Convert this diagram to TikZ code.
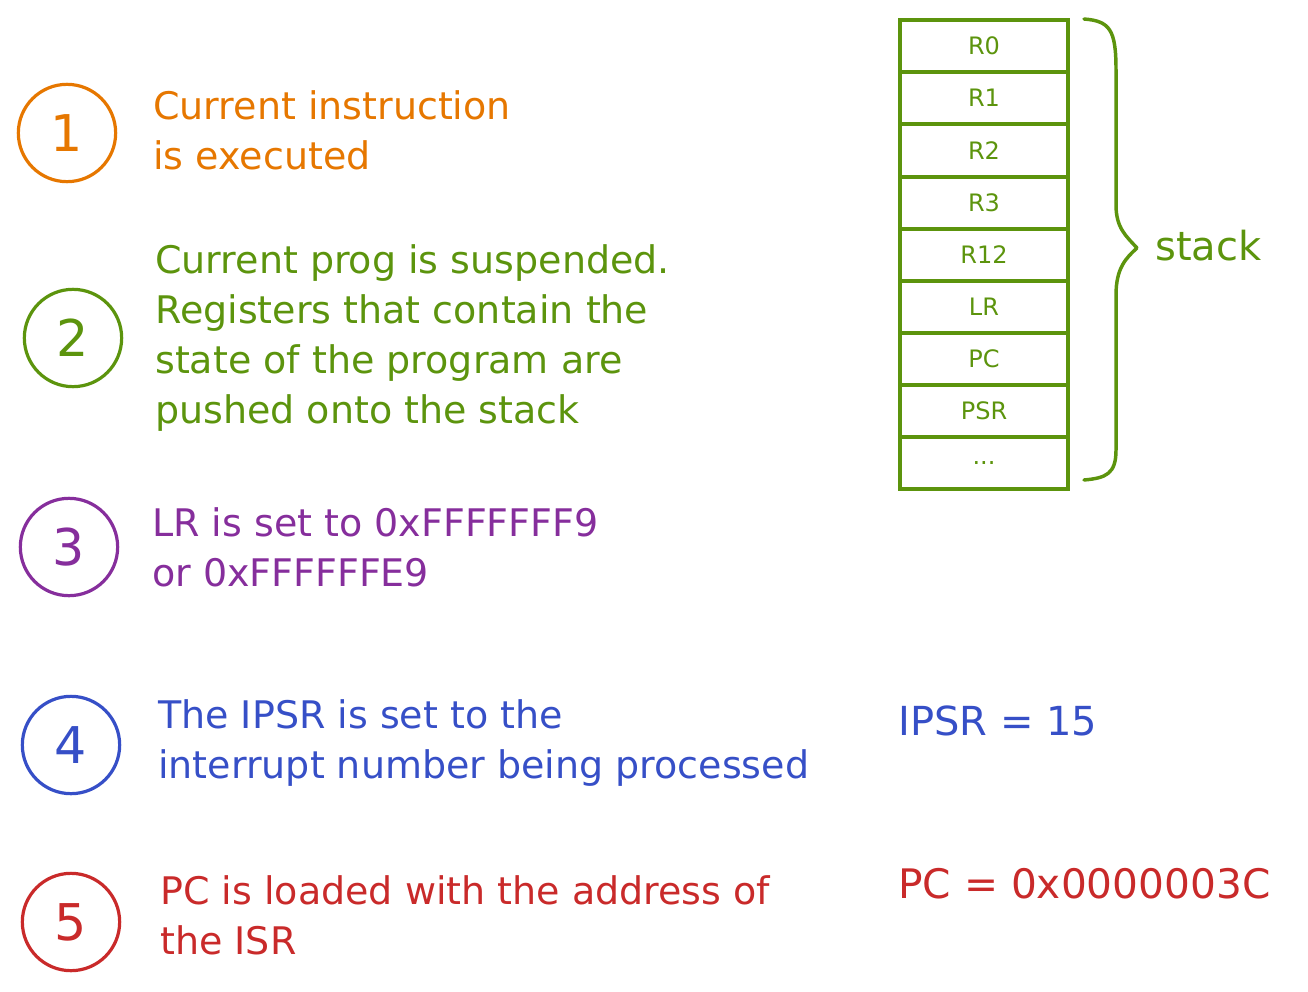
\documentclass[tikz,border=0pt]{standalone}
\usepackage{fontspec}
\setmainfont{DejaVu Sans}
\definecolor{corange}{HTML}{E67700}
\definecolor{cgreen}{HTML}{5C940D}
\definecolor{cpurple}{HTML}{862E9C}
\definecolor{cblue}{HTML}{364FC7}
\definecolor{cred}{HTML}{C92A2A}
\begin{document}
\begin{tikzpicture}[x=0.75pt,y=-0.75pt,
  num/.style={circle, draw, line width=2.4pt, minimum size=73pt, inner sep=0pt, font=\fontsize{38}{38}\selectfont},
  txt/.style={anchor=base west, align=left, inner sep=0pt, font=\fontsize{28.5}{37.5}\selectfont},
  cell/.style={draw=cgreen, line width=2.8pt, minimum width=126pt, minimum height=39pt, inner sep=0pt, text=cgreen, font=\fontsize{18}{18}\selectfont},
  bracepath/.style={draw=cgreen, line width=2.6pt, line cap=round, line join=round}]
\useasboundingbox (0,0) rectangle (1308,991);
% step 1
\node[num, draw=corange, text=corange] (c1) at (67,133) {1};
\node[txt, text=corange] (t1) at (153,170) {Current instruction\\is executed};
% step 2
\node[num, draw=cgreen, text=cgreen] (c2) at (73,338) {2};
\node[txt, text=cgreen] (t2) at (155,423) {Current prog is suspended.\\Registers that contain the\\state of the program are\\pushed onto the stack};
% step 3
\node[num, draw=cpurple, text=cpurple] (c3) at (69,547) {3};
\node[txt, text=cpurple] (t3) at (152,586) {LR is set to 0xFFFFFFF9\\or 0xFFFFFFE9};
% step 4
\node[num, draw=cblue, text=cblue] (c4) at (71,745) {4};
\node[txt, text=cblue] (t4) at (158,778) {The IPSR is set to the\\interrupt number being processed};
\node[txt, text=cblue, font=\fontsize{30}{37.5}\selectfont] (ipsr) at (898,735) {IPSR = 15};
% step 5
\node[num, draw=cred, text=cred] (c5) at (71,922) {5};
\node[txt, text=cred] (t5) at (160,954) {PC is loaded with the address of\\the ISR};
\node[txt, text=cred, font=\fontsize{30.5}{37.5}\selectfont] (pc) at (898,898) {PC = 0x0000003C};
% stack
\node[cell] (s0) at (984,46) {R0};
\node[cell] (s1) at (984,98) {R1};
\node[cell] (s2) at (984,150.5) {R2};
\node[cell] (s3) at (984,203) {R3};
\node[cell] (s4) at (984,255) {R12};
\node[cell] (s5) at (984,307) {LR};
\node[cell] (s6) at (984,359) {PC};
\node[cell] (s7) at (984,411) {PSR};
\node[cell] (s8) at (984,463) {...};
\draw[bracepath] (1084,19) .. controls (1110,21) and (1116,30) .. (1116,70) -- (1116,205) .. controls (1116,228) and (1126,236) .. (1137,248) .. controls (1126,258) and (1116,268) .. (1116,295) -- (1116,450) .. controls (1116,474) and (1106,478) .. (1084,480);
\node[txt, text=cgreen, font=\fontsize{30}{37.5}\selectfont] (stk) at (1155,260) {stack};
\end{tikzpicture}
\end{document}
